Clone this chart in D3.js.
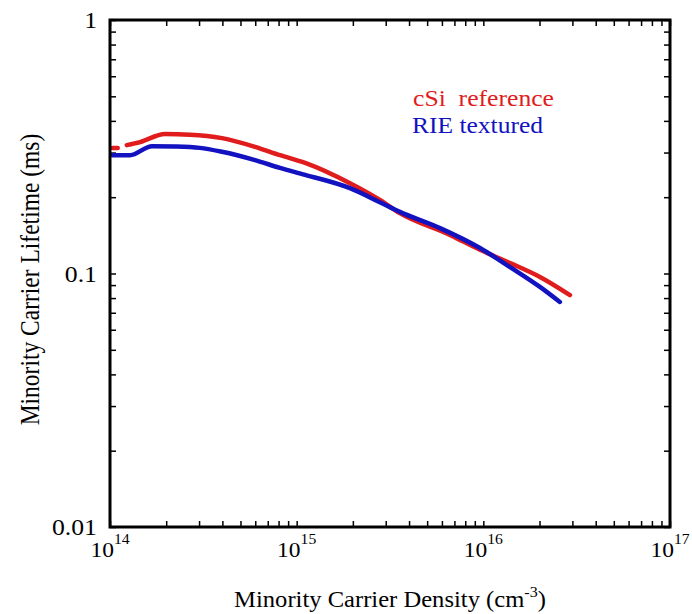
<!DOCTYPE html>
<html><head><meta charset="utf-8">
<script src="https://cdn.jsdelivr.net/npm/d3@7"></script>
<style>body{margin:0;background:#fff}svg{display:block}text{font-family:"Liberation Serif","Times New Roman",serif}</style>
</head><body><svg id="c" width="692" height="614"></svg>
<script>
// Data (density in cm^-3, lifetime in ms); null marks a gap in the trace
const csiDensity = [1.03e14,1.10e14,null,1.23e14,1.45e14,1.97e14,2.68e14,3.98e14,5.98e14,8.14e14,1.11e15,1.93e15,2.79e15,3.57e15,6.62e15,9.59e15,1.39e16,2.01e16,2.91e16];
const csiLifetime = [0.313,0.313,null,0.321,0.330,0.355,0.353,0.342,0.316,0.293,0.273,0.227,0.195,0.173,0.142,0.124,0.110,0.0969,0.0822];
const rieDensity = [1.03e14,1.28e14,1.68e14,2.23e14,3.03e14,3.98e14,5.98e14,8.14e14,1.11e15,1.93e15,2.79e15,3.57e15,5.86e15,9.59e15,1.39e16,2.01e16,2.57e16];
const rieLifetime = [0.293,0.293,0.318,0.317,0.313,0.302,0.280,0.261,0.245,0.217,0.191,0.175,0.151,0.126,0.106,0.0885,0.0772];
const seriesNames = ["cSi  reference","RIE textured"];
const xMajorExp = [14,15,16,17];
const yMajorLabels = ["1","0.1","0.01"];
const yMajorValues = [1,0.1,0.01];

const svg = d3.select("#c");
const L=110,R=670,T=20,B=527;
const SX=1.12; // horizontal stretch of the reference's lettering
const x = d3.scaleLog().domain([1e14,1e17]).range([L,R]);
const y = d3.scaleLog().domain([0.01,1]).range([B,T]);

const xt = x.ticks(); const yt = y.ticks();
const tk = 6;
svg.append("g").attr("transform",`translate(0,${B})`).call(d3.axisBottom(x).tickValues(xt).tickSize(-tk).tickFormat("")).call(g=>g.select(".domain").remove());
svg.append("g").attr("transform",`translate(0,${T})`).call(d3.axisTop(x).tickValues(xt).tickSize(-tk).tickFormat("")).call(g=>g.select(".domain").remove());
svg.append("g").attr("transform",`translate(${L},0)`).call(d3.axisLeft(y).tickValues(yt).tickSize(-tk).tickFormat("")).call(g=>g.select(".domain").remove());
svg.append("g").attr("transform",`translate(${R},0)`).call(d3.axisRight(y).tickValues(yt).tickSize(-tk).tickFormat("")).call(g=>g.select(".domain").remove());
svg.selectAll(".tick line").attr("stroke","#000").attr("stroke-width",1.5);

const mk = (xs,ys)=>xs.map((d,i)=>d==null?null:[d,ys[i]]);
const line = d3.line().defined(d=>d!=null).x(d=>x(d[0])).y(d=>y(d[1])).curve(d3.curveMonotoneX);
const colors=["#e01c1c","#1212c0"];
[mk(csiDensity,csiLifetime),mk(rieDensity,rieLifetime)].forEach((data,i)=>{
  svg.append("path").datum(data).attr("d",line).attr("fill","none").attr("stroke",colors[i]).attr("stroke-width",4.5).attr("stroke-linecap","round").attr("stroke-linejoin","round");
});

svg.append("rect").attr("x",L).attr("y",T).attr("width",R-L).attr("height",B-T).attr("fill","none").attr("stroke","#000").attr("stroke-width",3);

function stext(px,py,sx){ return svg.append("g").attr("transform",`translate(${px},${py}) scale(${sx},1)`).append("text"); }

// y labels
yMajorValues.forEach((v,i)=>{
  stext(L-13,y(v),SX).attr("dy","0.35em").attr("text-anchor","end").attr("font-size",23).text(yMajorLabels[i]);
});
// x labels
xMajorExp.forEach(e=>{
  const t=stext(x(Math.pow(10,e)),557,SX).attr("text-anchor","middle").attr("font-size",21);
  t.append("tspan").text("10");
  t.append("tspan").attr("dy",-13).attr("font-size",14).text(e);
});
// axis titles
const xt2=stext((L+R)/2,607,1.07).attr("text-anchor","middle").attr("font-size",23);
xt2.append("tspan").text("Minority Carrier Density (cm");
xt2.append("tspan").attr("dy",-10).attr("font-size",15).text("-3");
xt2.append("tspan").attr("dy",10).text(")");
svg.append("g").attr("transform",`translate(39,${(T+B)/2+6}) scale(${SX},1) rotate(-90)`).append("text").attr("text-anchor","middle").attr("font-size",23.5).text("Minority Carrier Lifetime (ms)");

// legend
const legX=[413,412], legY=[106,133], legLen=[141,131];
seriesNames.forEach((n,i)=>{
  svg.append("text").attr("x",legX[i]).attr("y",legY[i]).attr("font-size",23).attr("fill",colors[i])
    .attr("textLength",legLen[i]).attr("lengthAdjust","spacingAndGlyphs").style("white-space","pre").text(n);
});
</script></body></html>
